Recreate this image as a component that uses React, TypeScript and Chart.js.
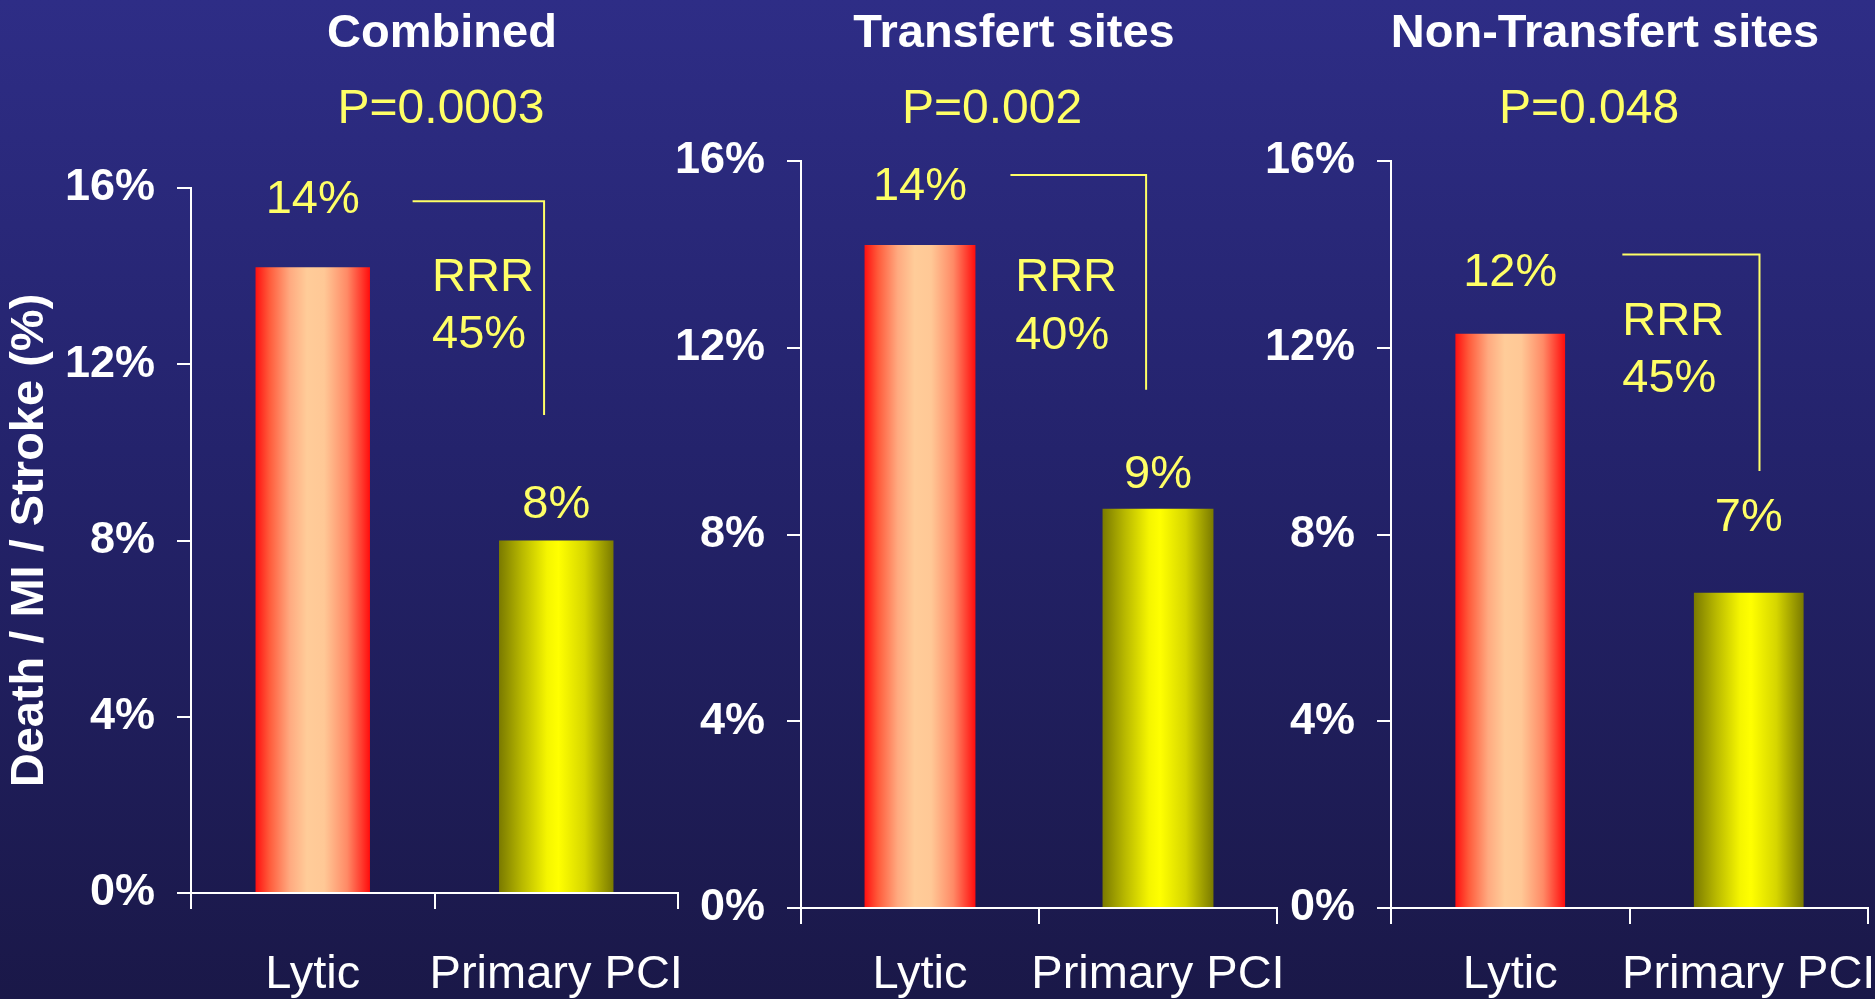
import React, { useEffect, useRef } from 'react';
import { Chart, registerables } from 'chart.js';

Chart.register(...registerables);

// ---------- data ----------
const categories = ['Lytic', 'Primary PCI'];
const panelTitles = ['Combined', 'Transfert sites', 'Non-Transfert sites'];
const pValues = ['P=0.0003', 'P=0.002', 'P=0.048'];
const combinedValues = [14.2, 8.0];
const transfertValues = [14.2, 8.55];
const nonTransfertValues = [12.3, 6.75];
const combinedLabels = ['14%', '8%'];
const transfertLabels = ['14%', '9%'];
const nonTransfertLabels = ['12%', '7%'];
const rrrValues = ['45%', '40%', '45%'];
const yTicks = [0, 4, 8, 12, 16];
const yAxisTitle = 'Death / MI / Stroke (%)';

// ---------- layout / style ----------
const FONT = '"Liberation Sans", Arial, Helvetica, sans-serif';
const YELLOW = '#ffff66';
const WHITE = '#ffffff';
const H = 999;

const panelData = [
  { values: combinedValues, labels: combinedLabels },
  { values: transfertValues, labels: transfertLabels },
  { values: nonTransfertValues, labels: nonTransfertLabels },
];

const panelLayout = [
  {
    left: 0, width: 700,
    area: { left: 191, right: 678, top: 188, bottom: 893 },
    titleX: 442, pX: 441, barPct: 0.47, xLabelPad: 38,
    labelAt: [15.73, 8.81],
    bracket: { x0: 0.41, x1: 0.95, yTop: 15.7, yBottom: 10.85 },
    rrr: { x: 0.49, y1: 13.96, y2: 12.66 },
    showYTitle: true,
  },
  {
    left: 660, width: 640,
    area: { left: 801, right: 1277, top: 161, bottom: 908 },
    titleX: 1014, pX: 992, barPct: 0.466, xLabelPad: 23,
    labelAt: [15.44, 9.28],
    bracket: { x0: 0.38, x1: 0.95, yTop: 15.7, yBottom: 11.1 },
    rrr: { x: 0.4, y1: 13.5, y2: 12.26 },
    showYTitle: false,
  },
  {
    left: 1250, width: 625,
    area: { left: 1391, right: 1868, top: 161, bottom: 908 },
    titleX: 1605, pX: 1589, barPct: 0.46, xLabelPad: 23,
    labelAt: [13.59, 8.36],
    bracket: { x0: 0.47, x1: 1.045, yTop: 14.0, yBottom: 9.36 },
    rrr: { x: 0.47, y1: 12.56, y2: 11.33 },
    showYTitle: false,
  },
];

function barGradient(ctx: CanvasRenderingContext2D, x0: number, x1: number, idx: number) {
  const g = ctx.createLinearGradient(x0, 0, x1, 0);
  if (idx === 0) {
    g.addColorStop(0, '#ff1010');
    g.addColorStop(0.12, '#ff5a3a');
    g.addColorStop(0.3, '#ffaa80');
    g.addColorStop(0.45, '#ffcc99');
    g.addColorStop(0.6, '#ffc896');
    g.addColorStop(0.8, '#ff8a66');
    g.addColorStop(1, '#ff0d0d');
  } else {
    g.addColorStop(0, '#7a7a00');
    g.addColorStop(0.2, '#b8b800');
    g.addColorStop(0.42, '#f5f500');
    g.addColorStop(0.52, '#ffff00');
    g.addColorStop(0.75, '#d6d600');
    g.addColorStop(1, '#7a7a00');
  }
  return g;
}

function Panel({ index }: { index: number }) {
  const ref = useRef<HTMLCanvasElement>(null);
  useEffect(() => {
    const L = panelLayout[index];
    const D = panelData[index];
    const annot = {
      id: 'annot' + index,
      afterDraw(chart: any) {
        const ctx = chart.ctx as CanvasRenderingContext2D;
        const xs = chart.scales.x;
        const ys = chart.scales.y;
        ctx.save();
        ctx.textAlign = 'center';
        ctx.textBaseline = 'middle';
        ctx.fillStyle = WHITE;
        ctx.font = `bold 47px ${FONT}`;
        ctx.fillText(panelTitles[index], L.titleX - L.left, 34);
        ctx.fillStyle = YELLOW;
        ctx.font = `48px ${FONT}`;
        ctx.fillText(pValues[index], L.pX - L.left, 110);
        ctx.font = `47px ${FONT}`;
        D.labels.forEach((t, i) => {
          ctx.fillText(t, xs.getPixelForValue(i), ys.getPixelForValue(L.labelAt[i]));
        });
        const b = L.bracket;
        ctx.strokeStyle = YELLOW;
        ctx.lineWidth = 2;
        ctx.beginPath();
        ctx.moveTo(xs.getPixelForValue(b.x0), ys.getPixelForValue(b.yTop));
        ctx.lineTo(xs.getPixelForValue(b.x1), ys.getPixelForValue(b.yTop));
        ctx.lineTo(xs.getPixelForValue(b.x1), ys.getPixelForValue(b.yBottom));
        ctx.stroke();
        ctx.textAlign = 'left';
        const rx = xs.getPixelForValue(L.rrr.x);
        ctx.fillText('RRR', rx, ys.getPixelForValue(L.rrr.y1));
        ctx.fillText(rrrValues[index], rx, ys.getPixelForValue(L.rrr.y2));
        ctx.restore();
      },
    };

    const chart = new Chart(ref.current as HTMLCanvasElement, {
      type: 'bar',
      data: {
        labels: categories,
        datasets: [
          {
            data: D.values,
            borderWidth: 0,
            categoryPercentage: 1,
            barPercentage: L.barPct,
            backgroundColor: (c: any) => {
              const ch = c.chart;
              const xs = ch.scales && ch.scales.x;
              const fallback = c.dataIndex === 0 ? '#ff8060' : '#e0e000';
              if (!xs || c.type !== 'data') return fallback;
              const cx = xs.getPixelForValue(c.dataIndex);
              const half = (xs.width / categories.length) * L.barPct / 2;
              if (!isFinite(cx) || !isFinite(half) || half <= 0) return fallback;
              return barGradient(ch.ctx, cx - half, cx + half, c.dataIndex);
            },
          },
        ],
      },
      options: {
        responsive: false,
        maintainAspectRatio: false,
        animation: false,
        devicePixelRatio: 1,
        layout: {
          padding: { top: L.area.top, right: L.width - (L.area.right - L.left), bottom: 0, left: 0 },
        },
        plugins: { legend: { display: false }, tooltip: { enabled: false }, title: { display: false } },
        scales: {
          x: {
            type: 'category',
            offset: true,
            grid: { offset: true, drawOnChartArea: false, color: WHITE, lineWidth: 2, tickLength: 16 },
            border: { color: WHITE, width: 2 },
            ticks: { color: WHITE, font: { family: FONT, size: 47 }, padding: L.xLabelPad, maxRotation: 0, autoSkip: false },
            afterFit: (s: any) => {
              s.height = H - L.area.bottom;
              s.paddingLeft = 0;
              s.paddingRight = 0;
            },
          },
          y: {
            min: 0,
            max: 16,
            afterBuildTicks: (s: any) => {
              s.ticks = yTicks.map((v) => ({ value: v }));
            },
            grid: { drawOnChartArea: false, color: WHITE, lineWidth: 2, tickLength: 14 },
            border: { color: WHITE, width: 2 },
            ticks: {
              color: WHITE,
              font: { family: FONT, size: 45, weight: 'bold' },
              padding: 22,
              callback: (v: any) => v + '%',
            },
            title: {
              display: L.showYTitle,
              text: yAxisTitle,
              color: WHITE,
              font: { family: FONT, size: 47, weight: 'bold' },
              padding: { top: 2, bottom: 0 },
            },
            afterFit: (s: any) => {
              s.width = L.area.left - L.left;
              s.paddingTop = 0;
              s.paddingBottom = 0;
            },
          },
        },
      } as any,
      plugins: [annot],
    });
    return () => chart.destroy();
  }, [index]);

  const L = panelLayout[index];
  return (
    <canvas
      ref={ref}
      width={L.width}
      height={H}
      style={{ position: 'absolute', left: L.left, top: 0, width: L.width, height: H }}
    />
  );
}

export default function App() {
  return (
    <div
      style={{
        position: 'fixed',
        left: 0,
        top: 0,
        width: 1875,
        height: 999,
        overflow: 'hidden',
        background: 'linear-gradient(180deg, #2e2d86 0%, #24236c 45%, #1a1848 100%)',
      }}
    >
      {panelLayout.map((_, i) => (
        <Panel key={i} index={i} />
      ))}
    </div>
  );
}
